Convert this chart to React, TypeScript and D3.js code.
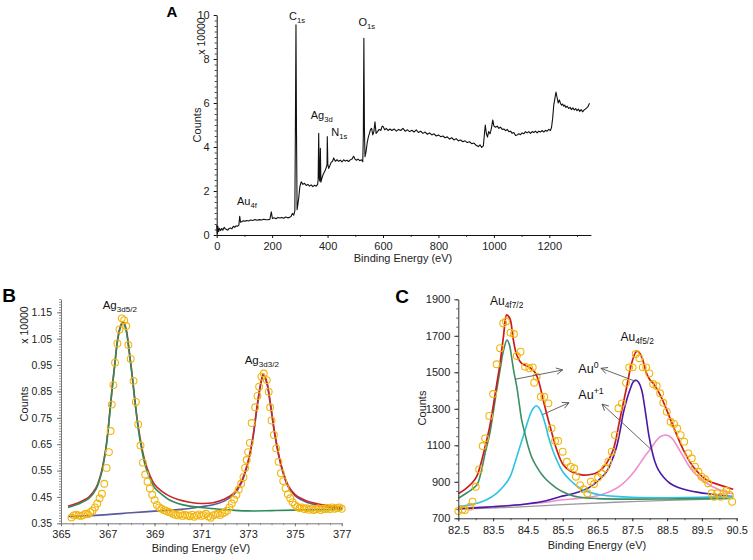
import React, { useRef, useEffect } from "react";
import * as d3 from "d3";

// ---------- panel A: survey spectrum (binding energy eV, counts x 10000) ----------
const surveyData = [
  [0, 0.45], [2, 0.05], [4, 0.4], [7, 0.15], [10, 0.3], [14, 0.2], [18, 0.3], [22, 0.22], [27, 0.35], [31, 0.28],
  [36, 0.25], [40, 0.22], [45, 0.3], [50, 0.32], [55, 0.28], [60, 0.4], [65, 0.35], [70, 0.42], [75, 0.4], [80, 0.45],
  [83, 0.85], [86, 0.58], [90, 0.6], [96, 0.65], [102, 0.62], [108, 0.66], [115, 0.64], [122, 0.68], [130, 0.66], [138, 0.7],
  [146, 0.67], [154, 0.7], [162, 0.68], [170, 0.72], [178, 0.69], [186, 0.7], [192, 0.72], [197, 1.05], [201, 0.75], [207, 0.78],
  [214, 0.74], [221, 0.8], [228, 0.77], [235, 0.8], [242, 0.76], [249, 0.82], [256, 0.78], [263, 0.8], [268, 0.84], [273, 0.98],
  [278, 0.9], [282, 1.1], [284, 5.0], [286, 9.55], [288, 4.5], [290, 1.15], [293, 1.4], [296, 1.7], [300, 2.2], [305, 2.42],
  [311, 2.3], [317, 2.35], [323, 2.25], [329, 2.3], [335, 2.22], [341, 2.28], [347, 2.2], [353, 2.26], [359, 2.22], [364, 2.3],
  [366, 2.5], [368, 4.62], [370, 2.6], [372, 2.45], [374, 3.94], [376, 2.4], [380, 2.6], [384, 2.75], [388, 2.85], [392, 2.95],
  [396, 3.1], [398, 3.2], [399, 4.47], [401, 3.2], [404, 3.03], [408, 3.15], [413, 3.3], [418, 3.35], [422, 3.5], [428, 3.35],
  [434, 3.42], [440, 3.35], [446, 3.4], [452, 3.32], [458, 3.42], [464, 3.36], [470, 3.4], [476, 3.34], [482, 3.42], [488, 3.45],
  [494, 3.58], [499, 3.45], [504, 3.4], [510, 3.45], [516, 3.38], [522, 3.42], [527, 3.33], [529, 4.5], [531, 8.94], [533, 4.8],
  [535, 3.56], [539, 3.8], [543, 4.2], [547, 4.45], [551, 4.62], [555, 4.8], [559, 4.85], [563, 4.55], [567, 4.7], [571, 5.15],
  [575, 4.62], [580, 4.7], [586, 4.8], [592, 4.75], [597, 4.95], [601, 4.92], [606, 4.78], [612, 4.85], [618, 4.75], [625, 4.82],
  [632, 4.75], [640, 4.82], [648, 4.72], [656, 4.8], [664, 4.75], [672, 4.85], [680, 4.72], [688, 4.78], [696, 4.7], [704, 4.76],
  [712, 4.68], [720, 4.78], [728, 4.66], [736, 4.72], [744, 4.62], [752, 4.68], [760, 4.58], [768, 4.64], [776, 4.55], [784, 4.6],
  [792, 4.5], [800, 4.55], [808, 4.47], [816, 4.5], [824, 4.42], [832, 4.46], [840, 4.36], [848, 4.42], [856, 4.32], [864, 4.38],
  [872, 4.28], [880, 4.32], [888, 4.24], [896, 4.28], [904, 4.2], [912, 4.24], [920, 4.15], [928, 4.18], [936, 4.08], [944, 4.02],
  [950, 4.1], [956, 3.98], [962, 4.05], [966, 4.6], [969, 5.0], [973, 4.6], [977, 4.45], [981, 4.7], [986, 4.6], [991, 4.85],
  [996, 5.23], [1000, 4.95], [1006, 4.9], [1012, 4.95], [1018, 4.85], [1024, 4.9], [1030, 4.8], [1036, 4.82], [1042, 4.74], [1048, 4.8],
  [1054, 4.7], [1060, 4.72], [1066, 4.62], [1072, 4.66], [1078, 4.52], [1084, 4.55], [1090, 4.6], [1096, 4.56], [1102, 4.64], [1108, 4.6],
  [1114, 4.7], [1120, 4.64], [1126, 4.7], [1132, 4.62], [1138, 4.7], [1144, 4.66], [1150, 4.72], [1156, 4.64], [1162, 4.72], [1168, 4.68],
  [1174, 4.75], [1180, 4.68], [1186, 4.76], [1192, 4.72], [1198, 4.8], [1204, 4.75], [1208, 4.9], [1212, 5.3], [1216, 5.9], [1220, 6.2],
  [1224, 6.5], [1228, 6.25], [1232, 6.0], [1236, 6.14], [1240, 6.0], [1244, 5.9], [1248, 5.95], [1252, 5.85], [1256, 5.9], [1260, 5.8],
  [1265, 5.85], [1270, 5.75], [1275, 5.8], [1280, 5.7], [1285, 5.78], [1290, 5.68], [1295, 5.75], [1300, 5.65], [1305, 5.72], [1310, 5.62],
  [1315, 5.7], [1320, 5.6], [1325, 5.68], [1330, 5.72], [1335, 5.78], [1340, 5.85], [1345, 5.99],
];
const surveyXTicks = [0, 200, 400, 600, 800, 1000, 1200];
const surveyXMinor = [100, 300, 500, 700, 900, 1100, 1300];
const surveyYTicks = [0, 2, 4, 6, 8, 10];
// peak labels: [main, subscript, energy, counts]
const surveyLabels = [
  ["Au", "4f", 84, 0.85],
  ["C", "1s", 286, 9.55],
  ["Ag", "3d", 368, 4.62],
  ["N", "1s", 399, 4.47],
  ["O", "1s", 531, 8.94],
];

// ---------- panel B: Ag 3d ----------
const agEnvelope = [
  [365.3, 0.415], [365.8, 0.43], [366.2, 0.45], [366.5, 0.485], [366.7, 0.535], [366.9, 0.625], [367.0, 0.695], [367.1, 0.785],
  [367.2, 0.875], [367.3, 0.955], [367.4, 1.035], [367.5, 1.085], [367.6, 1.11], [367.65, 1.115], [367.7, 1.11], [367.8, 1.08],
  [367.9, 1.015], [368.0, 0.945], [368.1, 0.865], [368.2, 0.787], [368.3, 0.718], [368.45, 0.64], [368.6, 0.582], [368.8, 0.532],
  [369.0, 0.497], [369.3, 0.472], [369.6, 0.455], [370.0, 0.44], [370.5, 0.43], [371.0, 0.425], [371.5, 0.428], [372.0, 0.442],
  [372.4, 0.466], [372.7, 0.506], [373.0, 0.586], [373.2, 0.676], [373.4, 0.806], [373.55, 0.886], [373.65, 0.917], [373.8, 0.886],
  [373.95, 0.806], [374.15, 0.686], [374.4, 0.576], [374.7, 0.496], [375.0, 0.46], [375.5, 0.435], [376.0, 0.423], [376.5, 0.415],
  [377.0, 0.41],
];
const agPeak1 = [
  [365.3, 0.41], [365.8, 0.425], [366.2, 0.445], [366.5, 0.48], [366.7, 0.53], [366.9, 0.62], [367.0, 0.69], [367.1, 0.78],
  [367.2, 0.87], [367.3, 0.95], [367.4, 1.03], [367.5, 1.08], [367.6, 1.105], [367.65, 1.11], [367.7, 1.105], [367.8, 1.075],
  [367.9, 1.01], [368.0, 0.94], [368.1, 0.86], [368.2, 0.78], [368.3, 0.71], [368.45, 0.63], [368.6, 0.57], [368.8, 0.52],
  [369.0, 0.485], [369.3, 0.46], [369.6, 0.44], [370.0, 0.425], [370.5, 0.415], [371.0, 0.41], [372.0, 0.402], [373.0, 0.397],
  [374.0, 0.398], [375.0, 0.4], [376.0, 0.402], [377.0, 0.403],
];
const agPeak2 = [
  [365.3, 0.376], [366.0, 0.378], [367.0, 0.383], [368.0, 0.39], [369.0, 0.396], [370.0, 0.402], [370.8, 0.41], [371.5, 0.42],
  [372.0, 0.435], [372.4, 0.46], [372.7, 0.5], [373.0, 0.58], [373.2, 0.67], [373.4, 0.8], [373.55, 0.88], [373.65, 0.912],
  [373.8, 0.88], [373.95, 0.8], [374.15, 0.68], [374.4, 0.57], [374.7, 0.49], [375.0, 0.455], [375.5, 0.43], [376.0, 0.418],
  [376.5, 0.41], [377.0, 0.405],
];
const agData = [
  [365.45, 0.372], [365.55, 0.38], [365.65, 0.383], [365.75, 0.38], [365.85, 0.378], [365.95, 0.381], [366.05, 0.386], [366.15, 0.384],
  [366.25, 0.392], [366.35, 0.398], [366.45, 0.41], [366.55, 0.425], [366.65, 0.445], [366.75, 0.462], [366.85, 0.5], [366.95, 0.56],
  [367.05, 0.62], [367.12, 0.7], [367.17, 0.8], [367.24, 0.874], [367.31, 0.959], [367.41, 1.032], [367.5, 1.085], [367.6, 1.127],
  [367.7, 1.12], [367.79, 1.098], [367.88, 1.026], [367.98, 0.973], [368.1, 0.89], [368.2, 0.81], [368.3, 0.725], [368.4, 0.645],
  [368.5, 0.58], [368.6, 0.535], [368.7, 0.508], [368.8, 0.482], [368.9, 0.458], [369.0, 0.438], [369.1, 0.42], [369.2, 0.41],
  [369.3, 0.405], [369.4, 0.4], [369.5, 0.397], [369.6, 0.393], [369.7, 0.39], [369.8, 0.385], [369.9, 0.382], [370.0, 0.38],
  [370.1, 0.386], [370.2, 0.378], [370.3, 0.382], [370.4, 0.38], [370.5, 0.377], [370.6, 0.383], [370.7, 0.375], [370.8, 0.38],
  [370.9, 0.384], [371.0, 0.378], [371.1, 0.381], [371.2, 0.386], [371.3, 0.376], [371.4, 0.371], [371.5, 0.38], [371.6, 0.383],
  [371.7, 0.386], [371.8, 0.381], [371.9, 0.388], [372.0, 0.392], [372.1, 0.398], [372.2, 0.41], [372.3, 0.425], [372.4, 0.44],
  [372.5, 0.458], [372.6, 0.478], [372.7, 0.5], [372.8, 0.525], [372.87, 0.56], [372.94, 0.59], [373.0, 0.62], [373.07, 0.655],
  [373.15, 0.73], [373.3, 0.79], [373.4, 0.833], [373.47, 0.868], [373.57, 0.906], [373.67, 0.918], [373.8, 0.893], [373.88, 0.849],
  [373.94, 0.79], [374.0, 0.74], [374.1, 0.685], [374.2, 0.634], [374.3, 0.583], [374.4, 0.54], [374.5, 0.51], [374.6, 0.483],
  [374.7, 0.46], [374.8, 0.445], [374.9, 0.43], [375.0, 0.42], [375.1, 0.412], [375.2, 0.408], [375.3, 0.41], [375.4, 0.404],
  [375.5, 0.407], [375.6, 0.401], [375.7, 0.405], [375.8, 0.4], [375.9, 0.403], [376.0, 0.406], [376.1, 0.4], [376.2, 0.405],
  [376.3, 0.403], [376.4, 0.408], [376.5, 0.404], [376.6, 0.41], [376.7, 0.405], [376.8, 0.408], [376.9, 0.41], [377.0, 0.405],
];
const agXTicks = [365, 367, 369, 371, 373, 375, 377];
const agYTicks = [0.35, 0.45, 0.55, 0.65, 0.75, 0.85, 0.95, 1.05, 1.15];
const agLabels = [
  ["Ag", "3d5/2", 367.6, 1.127],
  ["Ag", "3d3/2", 373.67, 0.918],
];

// ---------- panel C: Au 4f ----------
const auEnvelope = [
  [82.5, 835], [82.7, 860], [82.9, 895], [83.03, 930], [83.15, 1000], [83.27, 1092], [83.4, 1200], [83.5, 1311], [83.6, 1430],
  [83.7, 1549], [83.8, 1700], [83.89, 1815], [83.95, 1805], [84.0, 1785], [84.08, 1680], [84.18, 1595], [84.32, 1549], [84.47, 1535],
  [84.6, 1520], [84.7, 1500], [84.8, 1458], [84.94, 1348], [85.05, 1265], [85.14, 1202], [85.33, 1074], [85.52, 992], [85.71, 960],
  [85.9, 945], [86.09, 937], [86.3, 940], [86.48, 950], [86.65, 975], [86.76, 1001], [86.95, 1074], [87.14, 1239], [87.34, 1421],
  [87.48, 1549], [87.6, 1610], [87.66, 1615], [87.77, 1585], [87.91, 1494], [88.0, 1460], [88.1, 1440], [88.3, 1376], [88.49, 1293],
  [88.68, 1202], [88.97, 1074], [89.25, 983], [89.64, 910], [90.02, 882], [90.4, 859],
];
const auPeakA = [
  [82.5, 810], [82.75, 840], [83.03, 882], [83.15, 950], [83.27, 1056], [83.4, 1160], [83.5, 1275], [83.6, 1400], [83.7, 1513],
  [83.8, 1620], [83.9, 1677], [83.97, 1650], [84.03, 1585], [84.1, 1500], [84.18, 1421], [84.25, 1330], [84.32, 1239], [84.42, 1160],
  [84.51, 1092], [84.62, 1030], [84.75, 983], [84.9, 940], [85.04, 910], [85.2, 883], [85.33, 864], [85.5, 845], [85.71, 828],
  [86.0, 815], [86.5, 808], [87.5, 805], [88.5, 806], [89.5, 808], [90.4, 810],
];
const auPeakB = [
  [82.5, 764], [82.8, 772], [83.03, 782], [83.3, 800], [83.6, 837], [83.8, 875], [83.99, 928], [84.12, 1000], [84.27, 1092],
  [84.4, 1170], [84.51, 1239], [84.6, 1285], [84.68, 1308], [84.75, 1317], [84.82, 1305], [84.9, 1275], [85.0, 1215], [85.09, 1147],
  [85.2, 1080], [85.33, 1019], [85.5, 955], [85.71, 910], [85.9, 878], [86.09, 855], [86.35, 838], [86.6, 828], [87.0, 820],
  [87.5, 815], [88.5, 813], [89.5, 815], [90.4, 820],
];
const auPeakC = [
  [82.5, 752], [83.0, 757], [83.5, 763], [84.0, 770], [84.5, 780], [85.0, 795], [85.42, 818], [85.7, 830], [85.98, 846],
  [86.2, 862], [86.36, 882], [86.55, 912], [86.76, 955], [86.9, 1010], [87.05, 1092], [87.15, 1180], [87.24, 1275], [87.34, 1350],
  [87.43, 1403], [87.52, 1445], [87.6, 1458], [87.68, 1445], [87.77, 1403], [87.84, 1330], [87.91, 1239], [87.98, 1150],
  [88.06, 1074], [88.15, 1010], [88.25, 965], [88.4, 925], [88.58, 892], [88.8, 870], [89.06, 855], [89.4, 842], [89.74, 833],
  [90.1, 825], [90.4, 818],
];
const auPeakD = [
  [82.5, 756], [83.0, 760], [83.5, 764], [84.0, 770], [84.5, 778], [85.0, 788], [85.42, 800], [85.9, 808], [86.36, 818],
  [86.7, 835], [86.95, 855], [87.15, 878], [87.34, 910], [87.55, 955], [87.72, 1001], [87.86, 1040], [88.0, 1074], [88.15, 1115],
  [88.3, 1147], [88.47, 1156], [88.58, 1148], [88.68, 1129], [88.82, 1085], [88.97, 1038], [89.1, 995], [89.25, 955], [89.45, 920],
  [89.64, 892], [89.84, 870], [90.02, 855], [90.2, 843], [90.4, 833],
];
const auBaseline = [
  [82.5, 750], [84.0, 760], [85.5, 775], [87.0, 788], [88.5, 798], [90.4, 808],
];
const auData = [
  [82.5, 740], [82.62, 748], [82.69, 745], [82.84, 764], [82.91, 791], [83.0, 873], [83.1, 968], [83.2, 1096], [83.27, 1138],
  [83.39, 1261], [83.5, 1381], [83.6, 1544], [83.7, 1632], [83.79, 1769], [83.87, 1778], [84.0, 1717], [84.1, 1710], [84.18, 1589],
  [84.29, 1613], [84.42, 1531], [84.54, 1522], [84.64, 1527], [84.68, 1443], [84.75, 1476], [84.87, 1366], [84.97, 1366],
  [85.09, 1330], [85.18, 1193], [85.28, 1124], [85.37, 1124], [85.5, 1065], [85.62, 1010], [85.73, 983], [85.83, 974], [85.88, 928],
  [86.0, 882], [86.1, 859], [86.21, 837], [86.31, 901], [86.4, 888], [86.52, 925], [86.62, 946], [86.72, 974], [86.81, 1010],
  [86.91, 1065], [87.0, 1156], [87.1, 1303], [87.2, 1330], [87.32, 1443], [87.41, 1527], [87.51, 1527], [87.6, 1600], [87.7, 1577],
  [87.8, 1527], [87.9, 1527], [87.99, 1494], [88.1, 1436], [88.2, 1425], [88.3, 1385], [88.39, 1333], [88.49, 1284], [88.6, 1229],
  [88.7, 1217], [88.79, 1193], [88.89, 1156], [88.99, 1120], [89.11, 1056], [89.21, 1029], [89.3, 983], [89.4, 955], [89.49, 928],
  [89.59, 914], [89.68, 892], [89.78, 837], [89.85, 818], [89.94, 837], [90.04, 818], [90.13, 837], [90.2, 851], [90.3, 828],
  [90.37, 791],
];
const auXTicks = [82.5, 83.5, 84.5, 85.5, 86.5, 87.5, 88.5, 89.5, 90.5];
const auYTicks = [700, 900, 1100, 1300, 1500, 1700, 1900];
const auPeakLabels = [
  ["Au", "4f7/2", 83.89, 1815],
  ["Au", "4f5/2", 87.64, 1615],
];
// arrows from fitted peaks toward the oxidation-state labels: [fromE, fromC, toE, toC]
const auArrows = [
  [84.13, 1462, 85.5, 1513],
  [84.92, 1268, 85.68, 1333],
  [87.6, 1450, 86.6, 1522],
  [88.06, 1074, 86.63, 1326],
];

const FONT = "'Liberation Sans', Arial, Helvetica, sans-serif";

function drawAxis(svg: any, scale: any, orient: string, at: number, major: number[], minor: number[], fmt: any, color: string, tickSize: number, pad: number, fs = 11) {
  const mk = orient === "bottom" ? d3.axisBottom : d3.axisLeft;
  const tr = orient === "bottom" ? `translate(0,${at})` : `translate(${at},0)`;
  const gm = svg.append("g").attr("transform", tr)
    .call(mk(scale).tickValues(minor).tickSize(2).tickSizeOuter(0).tickFormat(() => ""));
  gm.select(".domain").remove();
  gm.selectAll("line").attr("stroke", color).attr("stroke-width", 0.8);
  const g = svg.append("g").attr("transform", tr)
    .call(mk(scale).tickValues(major).tickSize(tickSize).tickSizeOuter(0).tickPadding(pad).tickFormat(fmt));
  g.select(".domain").attr("stroke", color).attr("stroke-width", 1);
  g.selectAll("line").attr("stroke", color).attr("stroke-width", 1);
  g.selectAll("text").attr("font-family", FONT).attr("font-size", fs).attr("fill", "#222");
}

function subLabel(svg: any, x: number, y: number, main: string, sub: string, size: number, mode: string, anchor = "middle") {
  const t = svg.append("text").attr("x", x).attr("y", y).attr("text-anchor", anchor)
    .attr("font-family", FONT).attr("fill", "#111");
  t.append("tspan").attr("font-size", size).text(main);
  t.append("tspan").attr("font-size", size * 0.7).attr("dy", mode === "sub" ? 3 : -5).text(sub);
  return t;
}

function title(svg: any, x: number, y: number, text: string, rotate = false, size = 11) {
  svg.append("text").attr("transform", `translate(${x},${y})${rotate ? " rotate(-90)" : ""}`)
    .attr("text-anchor", "middle").attr("dominant-baseline", "central")
    .attr("font-family", FONT).attr("font-size", size).attr("fill", "#222").text(text);
}

function curve(svg: any, data: number[][], x: any, y: any, color: string, w: number, smooth = true) {
  const line = d3.line().x((d: any) => x(d[0])).y((d: any) => y(d[1]));
  if (smooth) line.curve(d3.curveCatmullRom);
  svg.append("path").datum(data).attr("d", line).attr("fill", "none")
    .attr("stroke", color).attr("stroke-width", w).attr("stroke-linejoin", "round");
}

const App = () => {
  const ref = useRef<SVGSVGElement>(null);

  useEffect(() => {
    const svg = d3.select(ref.current);
    svg.selectAll("*").remove();
    svg.append("rect").attr("width", 753).attr("height", 560).attr("fill", "#fff");

    svg.append("defs").append("marker").attr("id", "arr").attr("viewBox", "0 0 10 10")
      .attr("refX", 9).attr("refY", 5).attr("markerWidth", 8).attr("markerHeight", 8)
      .attr("markerUnits", "userSpaceOnUse").attr("orient", "auto")
      .append("path").attr("d", "M1,1 L9,5 L1,9").attr("fill", "none").attr("stroke", "#555").attr("stroke-width", 1.1);

    // ============== A ==============
    const xA = d3.scaleLinear().domain([0, 1350]).range([216.7, 590.9]);
    const yA = d3.scaleLinear().domain([0, 10]).range([235, 15]);
    const gA = svg.append("g");
    curve(gA, surveyData, xA, yA, "#111", 1.1, false);
    drawAxis(gA, xA, "bottom", 235, surveyXTicks, surveyXMinor, d3.format("d"), "#111", 3, 4);
    drawAxis(gA, yA, "left", 216.7, surveyYTicks, d3.range(0, 10.01, 0.25), d3.format("d"), "#111", 3, 4);
    surveyLabels.forEach((l: any) => {
      const dx = l[0] === "N" ? 12 : l[0] === "O" ? 3 : l[0] === "Au" ? 7 : l[0] === "Ag" ? 3 : 1;
      const dy = l[0] === "C" ? -5 : l[0] === "O" ? -12 : l[0] === "N" ? -1 : l[0] === "Ag" ? -14 : -11;
      subLabel(gA, xA(l[2]) + dx, yA(l[3]) + dy, l[0], l[1], 11, "sub");
    });
    svg.append("text").attr("x", 172).attr("y", 17).attr("text-anchor", "middle")
      .attr("font-family", FONT).attr("font-weight", "bold").attr("font-size", 15).text("A");
    title(svg, 201, 36, "x 10000", true, 10.5);
    title(svg, 197, 125, "Counts", true);
    title(svg, 403, 258, "Binding Energy (eV)");

    // ============== B ==============
    const xB = d3.scaleLinear().domain([365, 377]).range([61, 341.7]);
    const yB = d3.scaleLinear().domain([0.35, 1.2]).range([523.3, 299.1]);
    const gB = svg.append("g");
    curve(gB, agPeak2, xB, yB, "#5a5a9c", 1.6);
    curve(gB, agEnvelope, xB, yB, "#c8262c", 1.6);
    curve(gB, agPeak1, xB, yB, "#2f8a5a", 1.6);
    gB.append("g").selectAll("circle").data(agData).join("circle")
      .attr("cx", (d: any) => xB(d[0])).attr("cy", (d: any) => yB(d[1])).attr("r", 3.4)
      .attr("fill", "none").attr("stroke", "#f3b50c").attr("stroke-width", 1.1);
    drawAxis(gB, xB, "bottom", 523.3, agXTicks, d3.range(365, 377.01, 0.5), d3.format("d"), "#777", 3, 4);
    drawAxis(gB, yB, "left", 61, agYTicks, d3.range(0.35, 1.201, 0.01), d3.format(".2f"), "#777", 4, 5, 10.5);
    agLabels.forEach((l: any) => subLabel(gB, xB(l[2]) - 2, yB(l[3]) - 9, l[0], l[1], 11.5, "sub"));
    svg.append("text").attr("x", 9).attr("y", 302).attr("text-anchor", "middle")
      .attr("font-family", FONT).attr("font-weight", "bold").attr("font-size", 19).text("B");
    title(svg, 24, 325, "x 10000", true, 10.5);
    title(svg, 24, 404, "Counts", true);
    title(svg, 201, 548, "Binding Energy (eV)");

    // ============== C ==============
    const xC = d3.scaleLinear().domain([82.5, 90.5]).range([458.3, 736.7]);
    const yC = d3.scaleLinear().domain([700, 1900]).range([518.3, 299.3]);
    const gC = svg.append("g");
    curve(gC, auBaseline, xC, yC, "#9a9a9a", 1.3);
    curve(gC, auPeakD, xC, yC, "#ee8fd0", 1.6);
    curve(gC, auPeakC, xC, yC, "#4a1aa6", 1.6);
    curve(gC, auPeakB, xC, yC, "#2cc3e4", 1.6);
    curve(gC, auPeakA, xC, yC, "#3d8f66", 1.6);
    curve(gC, auEnvelope, xC, yC, "#cc1b1b", 1.7);
    gC.append("g").selectAll("circle").data(auData).join("circle")
      .attr("cx", (d: any) => xC(d[0])).attr("cy", (d: any) => yC(d[1])).attr("r", 3.4)
      .attr("fill", "none").attr("stroke", "#f3b50c").attr("stroke-width", 1.1);
    gC.append("g").selectAll("line").data(auArrows).join("line")
      .attr("x1", (d: any) => xC(d[0])).attr("y1", (d: any) => yC(d[1]))
      .attr("x2", (d: any) => xC(d[2])).attr("y2", (d: any) => yC(d[3]))
      .attr("stroke", "#555").attr("stroke-width", 0.9).attr("marker-end", "url(#arr)");
    drawAxis(gC, xC, "bottom", 518.3, auXTicks, d3.range(82.5, 90.51, 0.5), d3.format(".1f"), "#333", 3, 5);
    drawAxis(gC, yC, "left", 458.3, auYTicks, d3.range(700, 1901, 50), d3.format("d"), "#333", 4, 4);
    auPeakLabels.forEach((l: any) => subLabel(gC, xC(l[2]), yC(l[3]) - 10, l[0], l[1], 12, "sub"));
    subLabel(gC, xC(85.95), yC(1515) + 3, "Au", "0", 12.5, "sup", "start");
    subLabel(gC, xC(85.95), yC(1368) + 3, "Au", "+1", 12.5, "sup", "start");
    svg.append("text").attr("x", 402).attr("y", 303).attr("text-anchor", "middle")
      .attr("font-family", FONT).attr("font-weight", "bold").attr("font-size", 19).text("C");
    title(svg, 422, 408, "Counts", true);
    title(svg, 597, 545, "Binding Energy (eV)");
  });

  return (
    <div style={{ position: "absolute", left: 0, top: 0 }}>
      <svg ref={ref} width={753} height={560}></svg>
    </div>
  );
};

export default App;
